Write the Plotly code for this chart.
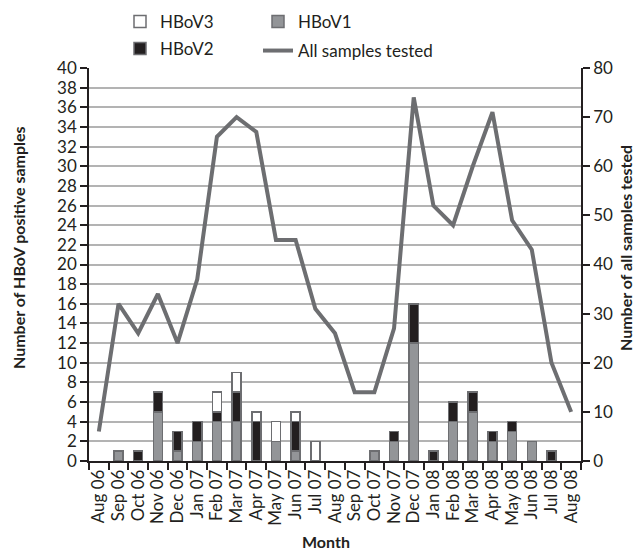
import plotly.graph_objects as go

months = ["Aug 06", "Sep 06", "Oct 06", "Nov 06", "Dec 06", "Jan 07", "Feb 07", "Mar 07",
          "Apr 07", "May 07", "Jun 07", "Jul 07", "Aug 07", "Sep 07", "Oct 07", "Nov 07",
          "Dec 07", "Jan 08", "Feb 08", "Mar 08", "Apr 08", "May 08", "Jun 08", "Jul 08", "Aug 08"]
hbov1 = [None, 1, None, 5, 1, 2, 4, 4, None, 2, 1, None, None, None, 1, 2, 12, None, 4, 5, 2, 3, 2, None, None]
hbov2 = [None, None, 1, 2, 2, 2, 1, 3, 4, None, 3, None, None, None, None, 1, 4, 1, 2, 2, 1, 1, None, 1, None]
hbov3 = [None, None, None, None, None, None, 2, 2, 1, 2, 1, 2, None, None, None, None, None, None, None, None, None, None, None, None, None]
all_tested = [6, 32, 26, 34, 24, 37, 66, 70, 67, 45, 45, 31, 26, 14, 14, 27, 74, 52, 48, 60, 71, 49, 43, 20, 10]

FONT = "Lato"
TXT = "#231f20"
EDGE = "#6d6e71"

fig = go.Figure()
fig.add_trace(go.Bar(x=months, y=hbov1, name="HBoV1", marker=dict(color="#939598", line=dict(color=EDGE, width=1.5)), legend="legend3"))
fig.add_trace(go.Bar(x=months, y=hbov2, name="HBoV2", marker=dict(color="#231f20", line=dict(color=EDGE, width=1.5)), legend="legend2"))
fig.add_trace(go.Bar(x=months, y=hbov3, name="HBoV3", marker=dict(color="#ffffff", line=dict(color=EDGE, width=1.5)), legend="legend"))
fig.add_trace(go.Scatter(x=months, y=all_tested, name="All samples tested", mode="lines",
                         line=dict(color="#6d6e71", width=4), yaxis="y2", legend="legend4"))

W, H = 641, 558

def leg(px, py):
    return dict(xref="container", yref="container", x=px / W, y=1 - py / H, xanchor="left", yanchor="middle",
                bgcolor="rgba(0,0,0,0)", font=dict(family=FONT, size=17, color=TXT),
                itemwidth=30, tracegroupgap=0)

def title_ann(text, px, py, angle, size):
    return dict(text="<b>%s</b>" % text, xref="paper", yref="paper",
                x=(px - 81) / (W - 81 - 68), y=(H - 105 - py) / (H - 60 - 105),
                showarrow=False, textangle=angle, xanchor="center", yanchor="middle",
                font=dict(family=FONT, size=size, color=TXT))

fig.update_layout(
    width=W, height=H,
    margin=dict(l=81, r=68, t=60, b=105, autoexpand=False),
    paper_bgcolor="white", plot_bgcolor="white",
    barmode="stack", bargap=0.54,
    font=dict(family=FONT, size=16, color=TXT),
    showlegend=True,
    legend=leg(112, 14),
    legend2=leg(112, 41),
    legend3=leg(250, 14),
    legend4=leg(250, 43),
    annotations=[
        title_ann("Number of HBoV positive samples", 10, 240, -90, 16),
        title_ann("Number of all samples tested", 617, 240, -90, 16),
        title_ann("Month", 318, 533, 0, 16),
    ],
    xaxis=dict(type="category", tickson="boundaries", ticks="outside", ticklen=7, tickwidth=1.5,
               tickmode="array", tickvals=months, ticktext=months,
               tickcolor="#231f20", showline=True, linecolor="#231f20", linewidth=1.5,
               tickangle=-90, tickfont=dict(family=FONT, size=17, color=TXT),
               showgrid=False, mirror=False, automargin=False),
    yaxis=dict(range=[0, 40], dtick=2, ticks="outside", ticklen=7, tickwidth=1.5, tickcolor="#231f20",
               showline=True, linecolor="#231f20", linewidth=1.5, automargin=False,
               showgrid=True, gridcolor="#b3b3b3", gridwidth=1.5, zeroline=False,
               tickfont=dict(family=FONT, size=17, color=TXT)),
    yaxis2=dict(range=[0, 80], dtick=10, overlaying="y", side="right", ticks="outside", ticklen=7, tickwidth=1.5,
                tickcolor="#231f20", showline=True, linecolor="#231f20", linewidth=1.5, automargin=False,
                showgrid=False, zeroline=False,
                tickfont=dict(family=FONT, size=17, color=TXT)),
)

fig.write_html("out.html")
